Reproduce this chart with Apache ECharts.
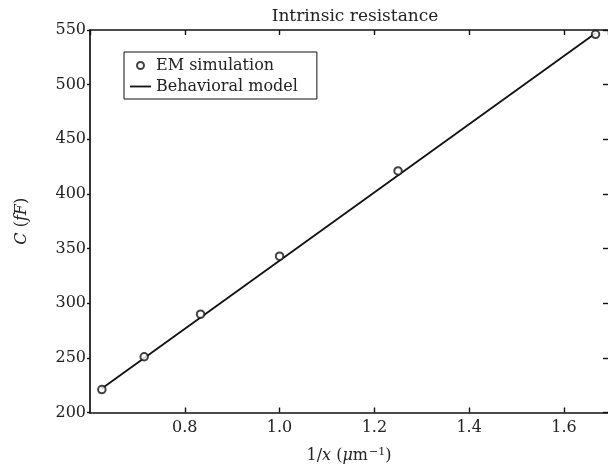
<!DOCTYPE html>
<html>
<head>
<meta charset="utf-8">
<script src="https://cdn.jsdelivr.net/npm/echarts@6/dist/echarts.min.js"></script>
<style>
  html, body { margin: 0; padding: 0; background: #fff; }
  #chart { width: 608px; height: 473px; }
</style>
</head>
<body>
<div id="chart"></div>
<script>
// Capacitance versus inverse width (1/x, in µm^-1)
const invWidth = [0.625, 0.7143, 0.8333, 1.0, 1.25, 1.6667];
const emSimulation = [221, 251, 290, 343, 421, 546];
// Behavioral model: straight line between its two end values
const modelInvWidth = [0.625, 1.6667];
const modelC = [222, 547];
const xTickLabels = ['0.8', '1.0', '1.2', '1.4', '1.6'];
const yTickLabels = ['200', '250', '300', '350', '400', '450', '500', '550'];

const FONT = 'DejaVu Serif';
const INK = '#222';
const X_MIN = 0.6, X_MAX = 1.693;

const emData = invWidth.map((v, i) => [v, emSimulation[i]]);
const modelData = modelInvWidth.map((v, i) => [v, modelC[i]]);

const chart = echarts.init(document.getElementById('chart'), null, { renderer: 'canvas' });

const axisLine = { show: true, lineStyle: { color: '#111', width: 1.7 } };
const tick = { color: '#111', width: 1.4 };
const italic = { fontFamily: FONT, fontStyle: 'italic', fontSize: 16, color: INK };

chart.setOption({
  animation: false,
  backgroundColor: '#fff',
  title: {
    text: 'Intrinsic resistance',
    left: 350, top: 3, textAlign: 'center',
    textStyle: { fontFamily: FONT, fontSize: 17, fontWeight: 'normal', color: INK }
  },
  legend: {
    orient: 'vertical',
    left: 124, top: 52,
    padding: [5, 19, 4, 6],
    itemGap: 4,
    itemWidth: 21, itemHeight: 7,
    borderColor: '#111', borderWidth: 1,
    backgroundColor: '#fff',
    textStyle: { fontFamily: FONT, fontSize: 16, color: INK, lineHeight: 17 },
    data: [
      { name: 'EM simulation' },
      { name: 'Behavioral model', icon: 'path://M0,0H21V1.8H0Z', itemStyle: { color: '#111' } }
    ]
  },
  grid: { left: 90, top: 30, right: 0, bottom: 60.5 },
  xAxis: [{
    type: 'value', position: 'bottom',
    min: X_MIN, max: X_MAX, interval: 0.2,
    axisLine: axisLine,
    axisTick: { show: true, inside: true, length: 5, lineStyle: tick },
    splitLine: { show: false },
    axisLabel: {
      margin: 7, fontFamily: FONT, fontSize: 16, color: INK,
      showMinLabel: false, showMaxLabel: false,
      formatter: v => { const s = v.toFixed(1); return xTickLabels.includes(s) ? s : ''; }
    },
    name: '1/{i|x} ({i|μ}m{sup|−1})',
    nameLocation: 'middle', nameGap: 34,
    nameTextStyle: {
      fontFamily: FONT, fontSize: 16, color: INK,
      rich: { i: italic, sup: { fontFamily: FONT, fontSize: 11, color: INK, verticalAlign: 'top', padding: [0, 0, 8, 1] } }
    }
  }, {
    type: 'value', position: 'top',
    min: X_MIN, max: X_MAX, interval: 0.2,
    axisLine: { show: true, lineStyle: { color: '#111', width: 1.5 } },
    axisTick: { show: true, inside: true, length: 5, lineStyle: tick },
    axisLabel: { show: false },
    splitLine: { show: false }
  }],
  yAxis: [{
    type: 'value', position: 'left',
    min: 200, max: 550, interval: 50,
    axisLine: axisLine,
    axisTick: { show: true, inside: false, length: 3, lineStyle: tick },
    splitLine: { show: false },
    axisLabel: {
      margin: 4, fontFamily: FONT, fontSize: 16, color: INK,
      formatter: v => { const s = String(v); return yTickLabels.includes(s) ? s : ''; }
    },
    name: '{i|C} ({i|fF})',
    nameLocation: 'middle', nameGap: 60, nameRotate: 90,
    nameTextStyle: { fontFamily: FONT, fontSize: 16, color: INK, rich: { i: italic } }
  }, {
    type: 'value', position: 'right',
    min: 200, max: 550, interval: 50,
    axisLine: { show: false },
    axisTick: { show: true, inside: true, length: 5, lineStyle: tick },
    axisLabel: { show: false },
    splitLine: { show: false }
  }],
  series: [{
    name: 'EM simulation',
    type: 'scatter',
    data: emData,
    symbol: 'emptyCircle',
    symbolSize: 7.5,
    itemStyle: { color: '#111', borderWidth: 1.2 },
    z: 5
  }, {
    name: 'Behavioral model',
    type: 'line',
    data: modelData,
    symbol: 'none',
    showSymbol: false,
    itemStyle: { color: '#111' },
    lineStyle: { color: '#111', width: 1.8 },
    z: 3
  }]
});
</script>
</body>
</html>
